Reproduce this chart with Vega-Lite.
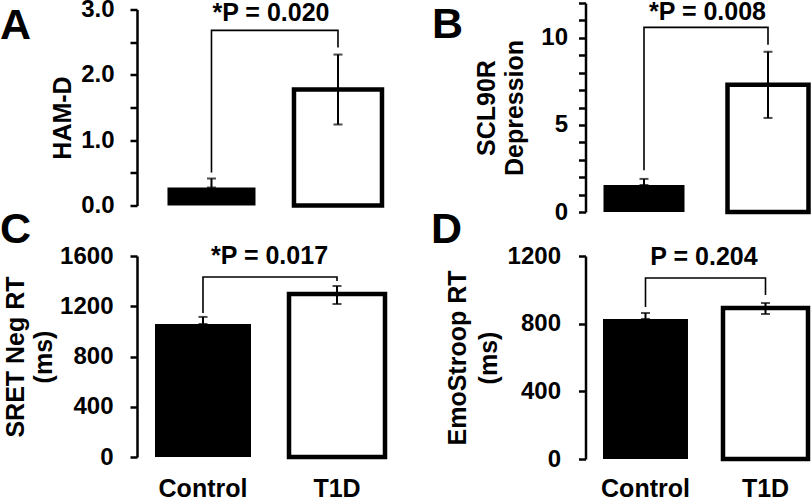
{
  "$schema": "https://vega.github.io/schema/vega-lite/v6.json",
  "background": "white",
  "padding": {"left": 0, "top": -9, "right": 0, "bottom": -5},
  "datasets": {
    "bars": [
      {"panel": "A", "group": "Control", "mean": 0.275, "lo": 0.275, "hi": 0.413},
      {"panel": "A", "group": "T1D", "mean": 1.776, "lo": 1.24, "hi": 2.31},
      {"panel": "B", "group": "Control", "mean": 1.55, "lo": 1.55, "hi": 1.9},
      {"panel": "B", "group": "T1D", "mean": 7.3, "lo": 5.4, "hi": 9.2},
      {"panel": "C", "group": "Control", "mean": 1059, "lo": 1059, "hi": 1115},
      {"panel": "C", "group": "T1D", "mean": 1298, "lo": 1218, "hi": 1361},
      {"panel": "D", "group": "Control", "mean": 828, "lo": 828, "hi": 863},
      {"panel": "D", "group": "T1D", "mean": 893, "lo": 857, "hi": 922}
    ],
    "bracket": [
      {"panel": "A", "group": "Control", "order": 1, "y": 0.505},
      {"panel": "A", "group": "Control", "order": 2, "y": 2.68},
      {"panel": "A", "group": "T1D", "order": 3, "y": 2.68},
      {"panel": "A", "group": "T1D", "order": 4, "y": 2.42},
      {"panel": "B", "group": "Control", "order": 1, "y": 2.4},
      {"panel": "B", "group": "Control", "order": 2, "y": 10.6},
      {"panel": "B", "group": "T1D", "order": 3, "y": 10.6},
      {"panel": "B", "group": "T1D", "order": 4, "y": 9.6},
      {"panel": "C", "group": "Control", "order": 1, "y": 1146},
      {"panel": "C", "group": "Control", "order": 2, "y": 1433},
      {"panel": "C", "group": "T1D", "order": 3, "y": 1433},
      {"panel": "C", "group": "T1D", "order": 4, "y": 1401},
      {"panel": "D", "group": "Control", "order": 1, "y": 899},
      {"panel": "D", "group": "Control", "order": 2, "y": 1070},
      {"panel": "D", "group": "T1D", "order": 3, "y": 1070},
      {"panel": "D", "group": "T1D", "order": 4, "y": 970}
    ],
    "ptext": [
      {"panel": "A", "group": "Control", "label": "*P = 0.020", "y": 2.83},
      {"panel": "B", "group": "Control", "label": "*P = 0.008", "y": 11.0},
      {"panel": "C", "group": "Control", "label": "*P = 0.017", "y": 1536},
      {"panel": "D", "group": "Control", "label": "P = 0.204", "y": 1147}
    ]
  },
  "columns": 2,
  "spacing": {"row": 44, "column": 188.5},
  "bounds": "flush",
  "align": "each",
  "center": true,
  "concat": [
    {
      "width": 260, "height": 196,
      "title": {"text": "A", "anchor": "start", "frame": "group", "fontSize": 43, "font": "Liberation Sans", "fontWeight": "bold", "color": "black", "baseline": "alphabetic", "offset": 0, "dx": -137, "dy": 84},
      "layer": [
        {"data": {"name": "bars"}, "transform": [{"filter": "datum.panel === 'A'"}],
         "mark": {"type": "bar", "stroke": "black"},
         "encoding": {
           "x": {"field": "group", "type": "nominal", "scale": {"paddingInner": 0.3043, "paddingOuter": 0.1798, "align": 0.67}, "axis": null},
           "y": {"field": "mean", "type": "quantitative", "scale": {"domain": [0, 3], "nice": false},
                 "axis": {"values": [0, 0.5, 1, 1.5, 2, 2.5, 3], "tickCount": 7, "labelOverlap": false, "labelExpr": "datum.value % 1 === 0 ? format(datum.value, '.1f') : ''", "title": "HAM-D", "labelPadding": 16, "titlePadding": 5, "titleX": -61.4, "titleY": 108}},
           "fill": {"field": "group", "type": "nominal", "scale": {"domain": ["Control", "T1D"], "range": ["black", "white"]}, "legend": null},
           "strokeWidth": {"condition": {"test": "datum.group === 'T1D'", "value": 4.5}, "value": 0}
         }},
        {"data": {"name": "bars"}, "transform": [{"filter": "datum.panel === 'A'"}],
         "mark": {"type": "rule", "color": "black", "strokeWidth": 2},
         "encoding": {"x": {"field": "group", "type": "nominal"}, "y": {"field": "lo", "type": "quantitative"}, "y2": {"field": "hi"}}},
        {"data": {"name": "bars"}, "transform": [{"filter": "datum.panel === 'A'"}],
         "mark": {"type": "tick", "color": "black", "size": 9, "thickness": 2},
         "encoding": {"x": {"field": "group", "type": "nominal"}, "y": {"field": "hi", "type": "quantitative"}}},
        {"data": {"name": "bars"}, "transform": [{"filter": "datum.panel === 'A'"}],
         "mark": {"type": "tick", "color": "black", "size": 9, "thickness": 2},
         "encoding": {"x": {"field": "group", "type": "nominal"}, "y": {"field": "lo", "type": "quantitative"}}},
        {"data": {"name": "bracket"}, "transform": [{"filter": "datum.panel === 'A'"}],
         "mark": {"type": "line", "color": "black", "strokeWidth": 1.6},
         "encoding": {"x": {"field": "group", "type": "nominal"}, "y": {"field": "y", "type": "quantitative"}, "order": {"field": "order", "type": "quantitative"}}},
        {"data": {"name": "ptext"}, "transform": [{"filter": "datum.panel === 'A'"}],
         "mark": {"type": "text", "font": "Liberation Sans", "fontWeight": "bold", "fontSize": 25, "baseline": "alphabetic", "align": "center", "color": "black"},
         "encoding": {"x": {"field": "group", "type": "nominal", "bandPosition": 1.176}, "y": {"field": "y", "type": "quantitative"}, "text": {"field": "label"}}}
      ]
    },
    {
      "width": 226, "height": 209,
      "title": {"text": "B", "anchor": "start", "frame": "group", "fontSize": 43, "font": "Liberation Sans", "fontWeight": "bold", "color": "black", "baseline": "alphabetic", "offset": 0, "dx": -153.5, "dy": 90},
      "layer": [
        {"data": {"name": "bars"}, "transform": [{"filter": "datum.panel === 'B'"}],
         "mark": {"type": "bar", "stroke": "black"},
         "encoding": {
           "x": {"field": "group", "type": "nominal", "scale": {"paddingInner": 0.3468, "paddingOuter": 0.0847, "align": 0.857}, "axis": null},
           "y": {"field": "mean", "type": "quantitative", "scale": {"domain": [0, 12], "nice": false},
                 "axis": {"values": [0, 1, 2, 3, 4, 5, 6, 7, 8, 9, 10, 11, 12], "tickCount": 13, "labelOverlap": false, "labelExpr": "datum.value % 5 === 0 ? format(datum.value, 'd') : ''", "title": ["SCL90R", "Depression"], "titleLineHeight": 28, "labelPadding": 11, "titlePadding": 13}},
           "fill": {"field": "group", "type": "nominal", "scale": {"domain": ["Control", "T1D"], "range": ["black", "white"]}, "legend": null},
           "strokeWidth": {"condition": {"test": "datum.group === 'T1D'", "value": 4.5}, "value": 0}
         }},
        {"data": {"name": "bars"}, "transform": [{"filter": "datum.panel === 'B'"}],
         "mark": {"type": "rule", "color": "black", "strokeWidth": 2},
         "encoding": {"x": {"field": "group", "type": "nominal"}, "y": {"field": "lo", "type": "quantitative"}, "y2": {"field": "hi"}}},
        {"data": {"name": "bars"}, "transform": [{"filter": "datum.panel === 'B'"}],
         "mark": {"type": "tick", "color": "black", "size": 9, "thickness": 2},
         "encoding": {"x": {"field": "group", "type": "nominal"}, "y": {"field": "hi", "type": "quantitative"}}},
        {"data": {"name": "bars"}, "transform": [{"filter": "datum.panel === 'B'"}],
         "mark": {"type": "tick", "color": "black", "size": 9, "thickness": 2},
         "encoding": {"x": {"field": "group", "type": "nominal"}, "y": {"field": "lo", "type": "quantitative"}}},
        {"data": {"name": "bracket"}, "transform": [{"filter": "datum.panel === 'B'"}],
         "mark": {"type": "line", "color": "black", "strokeWidth": 1.6},
         "encoding": {"x": {"field": "group", "type": "nominal"}, "y": {"field": "y", "type": "quantitative"}, "order": {"field": "order", "type": "quantitative"}}},
        {"data": {"name": "ptext"}, "transform": [{"filter": "datum.panel === 'B'"}],
         "mark": {"type": "text", "font": "Liberation Sans", "fontWeight": "bold", "fontSize": 25, "baseline": "alphabetic", "align": "center", "color": "black"},
         "encoding": {"x": {"field": "group", "type": "nominal", "bandPosition": 1.284}, "y": {"field": "y", "type": "quantitative"}, "text": {"field": "label"}}}
      ]
    },
    {
      "width": 260, "height": 201,
      "title": {"text": "C", "anchor": "start", "frame": "group", "fontSize": 43, "font": "Liberation Sans", "fontWeight": "bold", "color": "black", "baseline": "alphabetic", "offset": 0, "dx": -137, "dy": 42},
      "layer": [
        {"data": {"name": "bars"}, "transform": [{"filter": "datum.panel === 'C'"}],
         "mark": {"type": "bar", "stroke": "black"},
         "encoding": {
           "x": {"field": "group", "type": "nominal", "scale": {"paddingInner": 0.2836, "paddingOuter": 0.1119, "align": 0.6},
                 "axis": {"title": null, "domain": false, "ticks": false, "labelAngle": 0, "labelFontSize": 25, "labelPadding": 19}},
           "y": {"field": "mean", "type": "quantitative", "scale": {"domain": [0, 1600], "nice": false},
                 "axis": {"values": [0, 400, 800, 1200, 1600], "tickCount": 5, "format": "d", "title": ["SRET Neg RT", "(ms)"], "titleLineHeight": 28, "labelPadding": 17, "titlePadding": 3}},
           "fill": {"field": "group", "type": "nominal", "scale": {"domain": ["Control", "T1D"], "range": ["black", "white"]}, "legend": null},
           "strokeWidth": {"condition": {"test": "datum.group === 'T1D'", "value": 4.5}, "value": 0}
         }},
        {"data": {"name": "bars"}, "transform": [{"filter": "datum.panel === 'C'"}],
         "mark": {"type": "rule", "color": "black", "strokeWidth": 2},
         "encoding": {"x": {"field": "group", "type": "nominal"}, "y": {"field": "lo", "type": "quantitative"}, "y2": {"field": "hi"}}},
        {"data": {"name": "bars"}, "transform": [{"filter": "datum.panel === 'C'"}],
         "mark": {"type": "tick", "color": "black", "size": 9, "thickness": 2},
         "encoding": {"x": {"field": "group", "type": "nominal"}, "y": {"field": "hi", "type": "quantitative"}}},
        {"data": {"name": "bars"}, "transform": [{"filter": "datum.panel === 'C'"}],
         "mark": {"type": "tick", "color": "black", "size": 9, "thickness": 2},
         "encoding": {"x": {"field": "group", "type": "nominal"}, "y": {"field": "lo", "type": "quantitative"}}},
        {"data": {"name": "bracket"}, "transform": [{"filter": "datum.panel === 'C'"}],
         "mark": {"type": "line", "color": "black", "strokeWidth": 1.6},
         "encoding": {"x": {"field": "group", "type": "nominal"}, "y": {"field": "y", "type": "quantitative"}, "order": {"field": "order", "type": "quantitative"}}},
        {"data": {"name": "ptext"}, "transform": [{"filter": "datum.panel === 'C'"}],
         "mark": {"type": "text", "font": "Liberation Sans", "fontWeight": "bold", "fontSize": 25, "baseline": "alphabetic", "align": "center", "color": "black"},
         "encoding": {"x": {"field": "group", "type": "nominal", "bandPosition": 1.193}, "y": {"field": "y", "type": "quantitative"}, "text": {"field": "label"}}}
      ]
    },
    {
      "width": 226, "height": 203,
      "title": {"text": "D", "anchor": "start", "frame": "group", "fontSize": 43, "font": "Liberation Sans", "fontWeight": "bold", "color": "black", "baseline": "alphabetic", "offset": 0, "dx": -154.5, "dy": 41.5},
      "layer": [
        {"data": {"name": "bars"}, "transform": [{"filter": "datum.panel === 'D'"}],
         "mark": {"type": "bar", "stroke": "black"},
         "encoding": {
           "x": {"field": "group", "type": "nominal", "scale": {"paddingInner": 0.2917, "paddingOuter": 0.0875, "align": 0.833},
                 "axis": {"title": null, "domain": false, "ticks": false, "labelAngle": 0, "labelFontSize": 25, "labelPadding": 17.5}},
           "y": {"field": "mean", "type": "quantitative", "scale": {"domain": [0, 1200], "nice": false},
                 "axis": {"values": [0, 400, 800, 1200], "tickCount": 4, "format": "d", "title": ["EmoStroop RT", "(ms)"], "titleLineHeight": 31, "labelPadding": 18, "titlePadding": 6}},
           "fill": {"field": "group", "type": "nominal", "scale": {"domain": ["Control", "T1D"], "range": ["black", "white"]}, "legend": null},
           "strokeWidth": {"condition": {"test": "datum.group === 'T1D'", "value": 4.5}, "value": 0}
         }},
        {"data": {"name": "bars"}, "transform": [{"filter": "datum.panel === 'D'"}],
         "mark": {"type": "rule", "color": "black", "strokeWidth": 2},
         "encoding": {"x": {"field": "group", "type": "nominal"}, "y": {"field": "lo", "type": "quantitative"}, "y2": {"field": "hi"}}},
        {"data": {"name": "bars"}, "transform": [{"filter": "datum.panel === 'D'"}],
         "mark": {"type": "tick", "color": "black", "size": 9, "thickness": 2},
         "encoding": {"x": {"field": "group", "type": "nominal"}, "y": {"field": "hi", "type": "quantitative"}}},
        {"data": {"name": "bars"}, "transform": [{"filter": "datum.panel === 'D'"}],
         "mark": {"type": "tick", "color": "black", "size": 9, "thickness": 2},
         "encoding": {"x": {"field": "group", "type": "nominal"}, "y": {"field": "lo", "type": "quantitative"}}},
        {"data": {"name": "bracket"}, "transform": [{"filter": "datum.panel === 'D'"}],
         "mark": {"type": "line", "color": "black", "strokeWidth": 1.6},
         "encoding": {"x": {"field": "group", "type": "nominal"}, "y": {"field": "y", "type": "quantitative"}, "order": {"field": "order", "type": "quantitative"}}},
        {"data": {"name": "ptext"}, "transform": [{"filter": "datum.panel === 'D'"}],
         "mark": {"type": "text", "font": "Liberation Sans", "fontWeight": "bold", "fontSize": 25, "baseline": "alphabetic", "align": "center", "color": "black"},
         "encoding": {"x": {"field": "group", "type": "nominal", "bandPosition": 1.188}, "y": {"field": "y", "type": "quantitative"}, "text": {"field": "label"}}}
      ]
    }
  ],
  "config": {
    "view": {"stroke": null},
    "font": "Liberation Sans",
    "axis": {
      "grid": false,
      "labelFont": "Liberation Sans", "labelFontSize": 24, "labelFontWeight": "bold", "labelColor": "black",
      "titleFont": "Liberation Sans", "titleFontSize": 25, "titleFontWeight": "bold", "titleColor": "black",
      "domainColor": "black", "domainWidth": 2.5, "tickColor": "black", "tickWidth": 2.5, "tickSize": 7
    }
  }
}
